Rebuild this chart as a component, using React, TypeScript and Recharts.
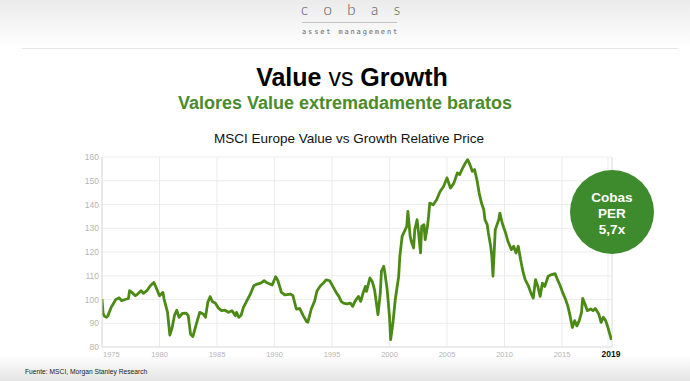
import React from "react"
import { LineChart, Line, XAxis, YAxis, CartesianGrid, ReferenceLine } from "recharts"

// MSCI Europe Value vs Growth relative price
const years = [
  1975.0, 1975.1, 1975.2, 1975.4, 1975.5, 1975.8, 1976.2, 1976.5, 1976.7, 1977.0,
  1977.3, 1977.4, 1977.6, 1977.9, 1978.1, 1978.4, 1978.6, 1978.9, 1979.2, 1979.5,
  1979.7, 1980.0, 1980.3, 1980.4, 1980.7, 1980.9, 1981.1, 1981.3, 1981.5, 1981.7,
  1982.0, 1982.3, 1982.5, 1982.7, 1982.9, 1983.2, 1983.5, 1983.8, 1984.0, 1984.2,
  1984.4, 1984.6, 1984.85, 1985.1, 1985.4, 1985.7, 1986.0, 1986.3, 1986.6, 1986.7,
  1986.9, 1987.1, 1987.3, 1987.6, 1987.9, 1988.2, 1988.5, 1988.8, 1989.1, 1989.3,
  1989.8, 1990.1, 1990.3, 1990.6, 1990.9, 1991.4, 1991.6, 1991.9, 1992.2, 1992.5,
  1992.8, 1992.9, 1993.2, 1993.5, 1993.7, 1994.0, 1994.3, 1994.5, 1994.8, 1995.1,
  1995.4, 1995.6, 1995.8, 1996.0, 1996.3, 1996.6, 1996.8, 1997.0, 1997.3, 1997.5,
  1997.7, 1997.9, 1998.0, 1998.3, 1998.5, 1998.7, 1998.9, 1999.0, 1999.2, 1999.3,
  1999.5, 1999.6, 1999.8, 2000.0, 2000.1, 2000.3, 2000.5, 2000.8, 2000.9, 2001.1,
  2001.3, 2001.5, 2001.6, 2001.8, 2001.9, 2002.1, 2002.2, 2002.4, 2002.5, 2002.7,
  2002.8, 2003.0, 2003.1, 2003.3, 2003.4, 2003.5, 2003.8, 2004.1, 2004.4, 2004.7,
  2005.0, 2005.3, 2005.6, 2005.9, 2006.1, 2006.3, 2006.6, 2006.8, 2007.0, 2007.2,
  2007.4, 2007.6, 2007.8, 2008.0, 2008.2, 2008.3, 2008.5, 2008.6, 2008.8, 2008.9,
  2009.0, 2009.2, 2009.3, 2009.5, 2009.6, 2009.8, 2010.1, 2010.3, 2010.6, 2010.8,
  2011.0, 2011.2, 2011.4, 2011.6, 2011.8, 2012.1, 2012.3, 2012.5, 2012.7, 2012.9,
  2013.1, 2013.3, 2013.5, 2013.8, 2014.1, 2014.4, 2014.6, 2014.85, 2015.05, 2015.3,
  2015.5, 2015.7, 2015.9, 2016.1, 2016.3, 2016.5, 2016.7, 2016.8, 2017.0, 2017.2,
  2017.5, 2017.7, 2017.9, 2018.2, 2018.4, 2018.6, 2018.8, 2019.0, 2019.2, 2019.3,
]

const relativePrice = [
  100.2, 94, 93, 92.5, 93, 96.7, 100, 100.7, 99.5, 100,
  100.5, 103.7, 103, 101.6, 102.3, 103.7, 102.6, 103.7, 105.8, 107.2,
  105.1, 101.6, 103, 100.2, 94.6, 85, 88.2, 93.2, 95.5, 92.5,
  94.2, 94.3, 93.2, 85.4, 84.4, 89.6, 94.6, 93.9, 92.5, 98.8,
  101.2, 99.1, 98.5, 96.5, 95.3, 95.5, 94.6, 95.3, 93.2, 94.6,
  92.5, 93.4, 96.7, 99.5, 102.3, 105.8, 106.5, 106.9, 107.9, 107.2,
  106.1, 109.6, 107.9, 103, 101.9, 102.3, 101.6, 96, 96.2, 93.2,
  90.6, 90.4, 96, 99.5, 103.7, 105.8, 107.2, 108.3, 107.9, 105.3,
  102.7, 101.3, 99.2, 98.5, 98.2, 98.5, 97.1, 99.2, 101.3, 99.2,
  102.7, 105.5, 103.4, 109.1, 107.6, 104.1, 97.1, 93.6, 102.7, 111.9,
  114, 111.2, 104.1, 92.9, 83.1, 90.1, 99.9, 109.8, 118.2, 126.6,
  128.7, 130.8, 137.1, 126.6, 124.5, 121.7, 129.4, 133.6, 129.4, 119.6,
  130.8, 131.5, 125.2, 130.8, 135, 140.6, 139.9, 142, 145.5, 147.6,
  151.2, 146.9, 149, 153.3, 152.6, 154.7, 157.5, 158.9, 156.8, 154,
  154.7, 150.5, 144.8, 140.6, 137.8, 133.6, 131.5, 128, 122.4, 118.2,
  109.8, 129.4, 130.8, 133.6, 136.4, 132.2, 128, 124.5, 121, 122.4,
  119.6, 122.4, 116.8, 111.9, 108.4, 105.5, 102.7, 100.6, 108.4, 105.5,
  101.3, 106.9, 105.5, 109.8, 110.5, 110.9, 108.5, 105.8, 103, 100.2,
  97.4, 93.2, 88.2, 91.1, 88.9, 91.1, 94.6, 100.5, 98.1, 95.3,
  96, 95.3, 96.2, 93.9, 90.4, 92.5, 91.1, 88.2, 84.7, 83,
]

const xTicks = [1975, 1980, 1985, 1990, 1995, 2000, 2005, 2010, 2015, 2019]
const yTicks = [80, 90, 100, 110, 120, 130, 140, 150, 160]
const xMax = 2019.35

const data = years.map((year, i) => ({ year, value: relativePrice[i] }))

const XTick = (props: any) => {
  const { x, y, payload } = props
  const v = payload.value
  if (v === 2019) {
    return (
      <text x={x + 3} y={y} dy="0.75em" textAnchor="middle" fontSize={8.5} fontWeight="bold" fill="#111" fontFamily="Liberation Sans, Arial, sans-serif">
        {v}
      </text>
    )
  }
  return (
    <text x={v === 1975 ? x + 1 : x} y={y} dy="0.75em" textAnchor={v === 1975 ? "start" : "middle"} fontSize={7.5} fill="#b5b5b5" fontFamily="Liberation Sans, Arial, sans-serif">
      {v}
    </text>
  )
}

const abs = (extra: React.CSSProperties): React.CSSProperties => ({ position: "absolute", ...extra })

export default function App() {
  return (
    <div style={{ position: "absolute", left: 0, top: 0, width: 690, height: 381, background: "#fff", overflow: "hidden", fontFamily: "Liberation Sans, Arial, sans-serif" }}>
      <div style={abs({ left: 0, top: 0, width: 690, height: 48, background: "linear-gradient(#ebebeb, #ffffff)" })} />
      <div style={abs({ left: 22, top: 48, width: 656, height: 1, background: "#e6e6e6" })} />
      <div style={abs({ left: 0, top: 355, width: 690, height: 26, background: "linear-gradient(#ffffff, #e4e4e4)" })} />

      {/* logo */}
      <div style={abs({ left: 301, top: 2, fontFamily: "Lato, sans-serif", fontWeight: 300, fontSize: 15, lineHeight: "15px", letterSpacing: 15.5, color: "#555" })}>cobas</div>
      <div style={abs({ left: 302, top: 22, width: 95, height: 1, background: "#c4c4c4" })} />
      <div style={abs({ left: 302, top: 29, fontFamily: "DejaVu Sans Mono, monospace", fontSize: 7, lineHeight: "7px", letterSpacing: 1.85, color: "#666" })}>asset management</div>

      {/* titles */}
      <div style={abs({ left: 7, top: 65, width: 690, textAlign: "center", fontSize: 25, lineHeight: "25px", color: "#000" })}>
        <b>Value</b> vs <b>Growth</b>
      </div>
      <div style={abs({ left: 0, top: 94, width: 690, textAlign: "center", fontSize: 18, lineHeight: "18px", fontWeight: "bold", color: "#4b8b2b" })}>
        Valores Value extremadamente baratos
      </div>
      <div style={abs({ left: 4, top: 132, width: 690, textAlign: "center", fontSize: 13.5, lineHeight: "14px", color: "#111" })}>
        MSCI Europe Value vs Growth Relative Price
      </div>

      <div style={abs({ left: 0, top: 0 })}>
        <LineChart width={690} height={381} data={data} margin={{ top: 157, right: 78, bottom: 14, left: 62 }}>
          <CartesianGrid stroke="#ececec" strokeWidth={1} />
          <XAxis
            dataKey="year"
            type="number"
            domain={[1975, xMax]}
            ticks={xTicks}
            interval={0}
            height={20}
            tickLine={false}
            tickSize={0}
            tickMargin={4}
            axisLine={{ stroke: "#e2e2e2" }}
            tick={<XTick />}
            allowDataOverflow
          />
          <YAxis
            type="number"
            domain={[80, 160]}
            ticks={yTicks}
            width={40}
            tickLine={false}
            tickSize={3}
            tickMargin={0}
            axisLine={{ stroke: "#dcdcdc" }}
            tick={{ fontSize: 8.5, fill: "#b5b5b5", fontFamily: "Liberation Sans, Arial, sans-serif" }}
          />
          <ReferenceLine x={xMax} stroke="#e6e6e6" />
          <Line type="linear" dataKey="value" stroke="#4c8a16" strokeWidth={2.8} strokeLinejoin="round" dot={false} isAnimationActive={false} />
        </LineChart>
      </div>

      {/* badge */}
      <div style={abs({ left: 570, top: 170, width: 84, height: 84, borderRadius: "50%", background: "#3e8b2e", color: "#fff", fontWeight: "bold", fontSize: 13.5, lineHeight: "16px", display: "flex", flexDirection: "column", alignItems: "center", justifyContent: "center", paddingTop: 4, boxSizing: "border-box" })}>
        <div>Cobas</div>
        <div>PER</div>
        <div>5,7x</div>
      </div>

      <div style={abs({ left: 25, top: 368, fontSize: 6.7, lineHeight: "8px", color: "#222" })}>
        Fuente: MSCI, Morgan Stanley Research
      </div>
    </div>
  )
}
